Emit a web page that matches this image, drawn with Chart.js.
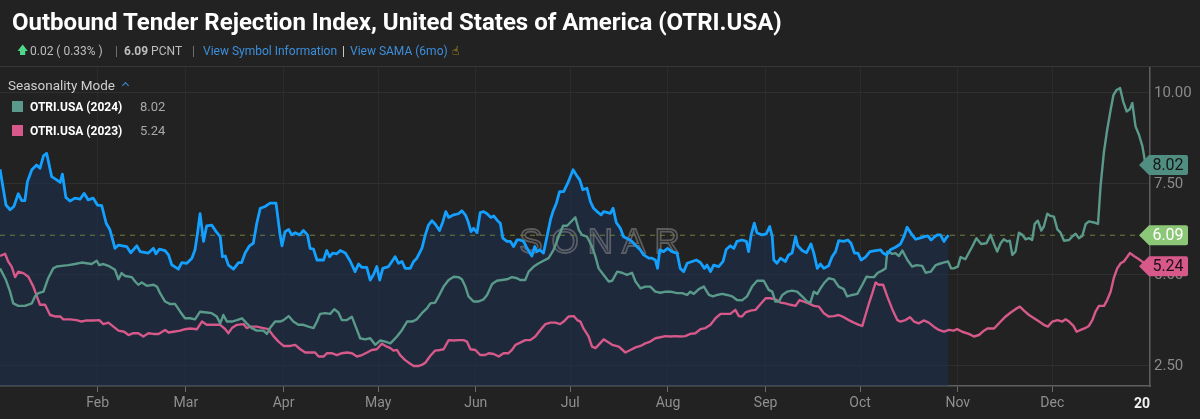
<!DOCTYPE html>
<html><head><meta charset="utf-8">
<script src="https://cdn.jsdelivr.net/npm/chart.js@4.4.1/dist/chart.umd.min.js"></script>
<style>
html,body{margin:0;padding:0;background:#222;width:1200px;height:419px;overflow:hidden;font-family:Roboto,"Noto Sans",sans-serif}
#wrap{position:relative;width:1200px;height:419px}
#c{position:absolute;left:0;top:0}
.t{position:absolute;white-space:nowrap}
#title{left:12px;top:8px;font:700 24px/28px Roboto;color:#fff}
.s{position:absolute;top:44px;font:12px/14px Roboto;color:#bdbdbd}
.lnk{color:#3d8fdc}
#hdrline{position:absolute;left:0;top:66px;width:1200px;height:1px;background:#363636}
.leg{position:absolute;font:12px/14px Roboto}
.sw{position:absolute;width:11px;height:11px}
</style></head><body>
<div id="wrap">
<canvas id="c" width="1200" height="419"></canvas>
<div id="hdrline"></div>
<div class="t" id="title">Outbound Tender Rejection Index, United States of America (OTRI.USA)</div>
<span class="s" style="left:17px;color:#4fd88a;font-size:11px">&#129093;</span>
<span class="s" style="left:30px">0.02 ( 0.33% )</span>
<span class="s" style="left:115px;color:#777">|</span>
<span class="s" style="left:124px"><b id="cur">6.09</b> PCNT</span>
<span class="s" style="left:192px;color:#777">|</span>
<span class="s lnk" style="left:203px">View Symbol Information</span>
<span class="s" style="left:342px;color:#ddd">|</span>
<span class="s lnk" style="left:350px">View SAMA (6mo)</span>
<span class="s" style="left:452px;color:#e8c21a;font-family:'DejaVu Sans'">&#9757;</span>
<div class="leg" style="left:8px;top:78px;font-size:13.5px;color:#cfcfcf">Seasonality Mode <span style="display:inline-block;width:4px;height:4px;border-left:1.5px solid #3d8fdc;border-top:1.5px solid #3d8fdc;transform:rotate(45deg);margin-left:5px;vertical-align:2px"></span></div>
<div class="sw" style="left:12px;top:101px;background:#5a9a8a"></div>
<div class="leg" style="left:30px;top:100px;color:#fff;font-weight:700">OTRI.USA (2024)</div>
<div class="leg" id="v24" style="left:140px;top:100px;color:#a8a8a8;font-size:13px"></div>
<div class="sw" style="left:12px;top:125px;background:#d6598a"></div>
<div class="leg" style="left:30px;top:124px;color:#fff;font-weight:700">OTRI.USA (2023)</div>
<div class="leg" id="v23" style="left:140px;top:124px;color:#a8a8a8;font-size:13px"></div>
</div>
<script>
// day of year -> value
const otri2025=[[0,7.90],[1.9,6.92],[3.2,6.79],[4.4,6.88],[5.8,7.23],[6.9,7.04],[7.9,7.04],[8.7,7.56],[10.1,7.89],[11.6,8.02],[12.7,7.93],[13.8,8.27],[14.8,8.34],[16.4,7.70],[18.0,7.61],[19.1,7.54],[19.8,7.77],[20.9,7.13],[22.2,7.03],[23.8,7.11],[25.4,7.08],[26.7,7.24],[28.0,7.06],[29.6,7.11],[30.9,6.92],[32.3,6.90],[33.7,6.42],[34.9,6.24],[36.5,5.73],[37.6,5.82],[40.2,5.78],[41.5,5.61],[43.4,5.80],[44.5,5.64],[47.1,5.60],[48.7,5.73],[49.5,5.58],[50.6,5.71],[52.4,5.67],[53.5,5.55],[54.5,5.28],[56.6,5.16],[57.7,5.34],[59.3,5.32],[60.9,5.46],[61.9,5.69],[62.7,6.15],[63.5,6.68],[64.6,5.92],[65.6,6.35],[67.2,6.37],[68.6,6.19],[69.9,6.05],[70.6,5.50],[71.5,5.52],[72.5,5.27],[74.1,5.16],[75.7,5.34],[76.7,5.34],[77.8,5.60],[79.2,5.80],[80.4,5.87],[81.5,6.42],[82.6,6.83],[84.2,6.88],[85.7,6.97],[87.6,6.97],[88.9,6.10],[89.5,5.80],[90.5,6.19],[91.6,6.25],[92.6,6.10],[93.7,6.16],[95.1,6.10],[96.3,6.22],[97.6,6.10],[98.4,5.73],[99.5,5.71],[100.6,5.41],[102.7,5.41],[103.7,5.67],[104.6,5.50],[105.6,5.60],[106.9,5.58],[108.0,5.67],[109.6,5.60],[111.1,5.39],[112.7,5.09],[113.8,5.30],[114.8,5.21],[116.4,5.21],[117.5,4.86],[118.5,5.00],[119.6,5.23],[120.5,4.86],[121.5,5.18],[123.3,5.23],[124.4,5.37],[125.4,5.50],[126.5,5.32],[127.6,5.37],[128.6,5.18],[130.2,5.18],[131.3,5.37],[132.3,5.46],[133.9,5.73],[135.0,6.10],[136.0,6.37],[137.1,6.49],[138.1,6.40],[139.5,6.22],[140.6,6.47],[141.5,6.74],[142.4,6.58],[144.0,6.65],[145.5,6.68],[146.6,6.76],[147.7,6.65],[148.4,6.51],[149.5,6.19],[150.3,6.28],[151.4,6.16],[152.4,6.71],[153.5,6.74],[154.6,6.68],[155.8,6.58],[156.7,6.62],[157.9,6.49],[158.8,6.42],[159.6,6.01],[160.9,5.92],[162.0,5.92],[163.0,5.78],[164.1,5.96],[165.1,5.96],[166.2,5.92],[167.3,5.73],[168.8,5.52],[169.7,5.78],[170.4,5.64],[171.3,5.69],[172.5,5.60],[173.6,6.05],[174.7,6.51],[175.5,6.74],[176.6,6.97],[177.6,7.29],[178.9,7.29],[180.2,7.52],[181.9,7.89],[183.1,7.72],[184.0,7.61],[185.0,7.34],[186.3,7.38],[187.4,7.01],[188.4,6.83],[189.5,6.74],[190.8,6.65],[191.6,6.74],[192.9,6.71],[193.7,6.69],[194.6,6.83],[195.6,6.44],[196.9,6.28],[197.9,6.05],[199.5,5.98],[200.6,5.92],[201.6,5.82],[203.2,5.69],[204.3,5.55],[205.9,5.46],[206.9,5.46],[208.0,5.41],[208.7,5.18],[209.4,5.69],[210.6,5.64],[211.9,5.73],[213.3,5.64],[214.9,5.60],[215.9,5.18],[217.0,5.09],[218.1,5.32],[219.7,5.37],[221.0,5.41],[222.3,5.34],[223.6,5.18],[224.4,5.27],[225.5,5.09],[226.5,5.27],[228.1,5.23],[229.5,5.37],[230.5,5.70],[231.8,5.80],[232.9,5.73],[233.9,5.92],[235.5,5.96],[236.9,5.92],[237.6,5.64],[238.4,6.10],[239.4,6.42],[240.3,6.15],[241.9,6.10],[243.2,6.13],[244.3,6.33],[245.1,6.05],[245.6,5.41],[246.6,5.32],[247.7,5.46],[249.3,5.37],[250.3,5.55],[251.4,5.60],[252.5,6.05],[253.2,5.80],[254.6,5.67],[256.0,5.61],[257.4,5.85],[258.3,5.60],[259.4,5.18],[260.4,5.30],[261.5,5.18],[263.0,5.25],[264.1,5.50],[265.2,5.64],[266.2,5.94],[267.8,5.92],[269.1,5.96],[270.1,5.87],[271.2,5.60],[272.3,5.60],[273.3,5.41],[274.7,5.49],[276.1,5.64],[277.9,5.67],[279.5,5.69],[280.3,5.60],[281.4,5.55],[282.6,5.69],[284.2,5.76],[285.8,5.85],[286.9,6.05],[287.9,6.31],[289.5,6.10],[290.6,5.98],[291.9,6.01],[293.4,6.05],[294.5,6.07],[295.5,5.96],[296.4,6.03],[297.5,6.10],[298.5,6.10],[299.6,5.92],[300.4,6.03],[301.1,6.09]];
const otri2024=[[0,5.18],[1.9,4.86],[3.2,4.54],[4.2,4.22],[5.8,4.15],[7.9,4.15],[10.1,4.22],[11.1,4.41],[12.2,4.50],[13.8,4.54],[15.3,4.91],[16.9,5.18],[18.0,5.23],[19.6,5.25],[21.7,5.27],[23.8,5.30],[25.9,5.34],[27.5,5.32],[29.1,5.30],[30.7,5.39],[31.5,5.27],[32.8,5.30],[34.4,5.25],[36.5,5.14],[37.6,4.88],[38.6,5.05],[39.7,4.97],[41.8,4.94],[42.9,4.82],[43.9,4.73],[45.0,4.79],[46.6,4.70],[48.7,4.73],[49.8,4.68],[50.8,4.50],[52.4,4.27],[54.0,4.20],[55.6,4.20],[57.2,3.99],[58.7,3.81],[60.3,3.81],[61.9,3.78],[63.5,3.99],[65.6,3.97],[67.2,3.95],[68.8,3.86],[69.9,3.67],[70.9,3.90],[72.0,3.72],[73.6,3.72],[75.2,3.76],[76.8,3.81],[78.3,3.67],[79.9,3.54],[81.5,3.47],[83.6,3.47],[84.7,3.38],[85.7,3.54],[87.3,3.72],[88.9,3.72],[90.0,3.76],[91.6,3.87],[93.1,3.72],[94.7,3.63],[96.3,3.63],[97.9,3.58],[99.5,3.54],[100.6,3.72],[101.6,3.93],[103.2,3.95],[104.8,3.93],[106.1,4.06],[107.4,3.97],[108.5,3.76],[110.1,3.76],[111.7,3.85],[113.3,3.49],[114.3,3.26],[115.9,3.23],[117.5,3.26],[119.1,3.08],[120.7,3.20],[122.3,3.17],[123.9,3.12],[124.9,3.21],[126.0,3.31],[127.6,3.49],[129.2,3.72],[130.8,3.72],[132.3,3.78],[133.9,3.95],[135.5,4.08],[136.6,4.22],[138.1,4.24],[139.2,4.41],[140.8,4.68],[142.4,4.86],[144.0,4.95],[145.5,4.94],[146.6,4.88],[147.7,4.68],[148.7,4.41],[150.3,4.27],[151.9,4.27],[153.5,4.33],[154.6,4.45],[156.2,4.75],[157.7,4.84],[159.3,4.86],[160.9,4.88],[162.5,4.94],[164.1,4.91],[165.1,4.86],[166.7,4.86],[167.8,5.09],[169.4,5.23],[171.0,5.32],[172.5,5.39],[174.1,5.46],[175.7,5.69],[177.3,6.05],[178.7,6.35],[180.0,6.35],[181.0,6.44],[182.6,6.58],[183.7,6.24],[184.7,6.10],[186.3,6.05],[187.9,5.78],[189.0,5.50],[190.0,5.18],[191.6,5.00],[193.2,4.82],[194.3,4.84],[195.9,5.09],[197.4,5.06],[199.0,5.00],[200.6,5.06],[201.7,4.82],[203.3,4.63],[204.8,4.68],[206.4,4.68],[208.0,4.54],[209.6,4.51],[211.2,4.54],[212.8,4.54],[214.9,4.50],[216.5,4.50],[218.1,4.45],[219.1,4.54],[220.2,4.48],[221.8,4.61],[223.4,4.68],[225.0,4.45],[226.3,4.41],[227.6,4.45],[229.2,4.48],[230.8,4.45],[232.4,4.41],[233.9,4.31],[235.5,4.30],[237.1,4.41],[238.7,4.68],[240.3,4.84],[242.4,4.84],[244.0,4.59],[245.1,4.54],[246.1,4.27],[247.2,4.27],[248.3,4.45],[249.8,4.54],[251.4,4.57],[253.0,4.54],[254.6,4.41],[256.2,4.27],[257.2,4.24],[258.3,4.54],[259.4,4.48],[260.4,4.63],[261.5,4.77],[263.0,4.91],[264.6,4.88],[266.2,4.68],[267.8,4.61],[268.9,4.41],[270.5,4.45],[272.1,4.48],[273.7,4.73],[275.0,4.95],[276.3,4.94],[277.4,4.94],[278.6,5.06],[280.0,5.12],[281.1,5.18],[281.6,5.64],[282.4,5.61],[283.2,5.58],[284.2,5.60],[285.3,5.52],[286.4,5.67],[288.0,5.41],[289.5,5.23],[290.9,5.27],[292.7,5.25],[293.8,5.06],[295.4,5.09],[297.0,5.27],[298.0,5.30],[299.4,5.34],[300.9,5.37],[301.9,5.18],[302.7,5.18],[304.0,5.23],[304.9,5.49],[306.4,5.43],[307.5,5.61],[308.6,5.78],[309.9,6.01],[311.4,5.85],[313.1,5.87],[314.4,6.10],[315.4,5.87],[316.5,5.64],[317.6,5.87],[318.6,5.98],[319.7,5.92],[320.5,5.94],[321.3,5.55],[322.3,5.64],[323.4,6.16],[324.5,6.10],[325.5,5.98],[326.6,6.01],[327.6,5.96],[328.4,6.40],[329.4,6.49],[330.5,6.22],[331.3,6.33],[332.4,6.68],[333.4,6.62],[334.5,6.60],[335.6,6.25],[336.6,6.16],[337.7,5.94],[339.3,5.96],[340.3,6.05],[341.4,6.13],[342.4,6.01],[343.5,6.07],[344.6,6.40],[345.6,6.47],[347.2,6.44],[348.5,6.40],[349.3,7.43],[350.4,8.39],[351.4,8.98],[352.5,9.53],[353.4,9.94],[354.4,10.08],[355.5,10.13],[356.5,9.76],[357.6,9.49],[358.6,9.55],[359.4,9.72],[360.4,9.08],[361.5,8.85],[362.6,8.53],[363.6,8.02]];
const otri2023=[[0,5.52],[1.6,5.58],[2.6,5.37],[3.7,5.23],[4.8,4.94],[5.8,5.09],[7.4,5.05],[9.0,4.95],[10.6,4.68],[11.7,4.41],[12.7,4.18],[14.3,4.18],[15.9,3.90],[17.5,3.86],[19.1,3.86],[20.1,3.78],[22.2,3.78],[24.3,3.76],[25.9,3.72],[27.5,3.75],[29.6,3.75],[31.5,3.76],[32.8,3.65],[34.4,3.69],[36.0,3.58],[37.6,3.47],[39.4,3.44],[40.8,3.35],[42.3,3.40],[43.9,3.40],[45.5,3.31],[47.1,3.40],[48.7,3.38],[50.3,3.38],[52.4,3.49],[53.5,3.42],[55.0,3.44],[57.2,3.47],[58.7,3.51],[60.3,3.53],[62.5,3.51],[64.1,3.72],[65.6,3.63],[67.7,3.63],[69.9,3.63],[71.5,3.51],[72.5,3.40],[73.6,3.54],[75.2,3.63],[77.3,3.65],[78.3,3.54],[79.4,3.58],[81.5,3.58],[83.6,3.54],[85.2,3.51],[86.8,3.32],[88.4,3.17],[90.0,3.05],[92.1,3.05],[93.7,3.08],[95.3,2.96],[96.9,2.87],[100.0,2.87],[101.1,2.76],[102.7,2.76],[103.8,2.85],[105.3,2.85],[106.9,2.80],[108.5,2.85],[110.1,2.87],[111.7,2.85],[113.3,2.76],[114.9,2.80],[116.5,2.87],[118.0,2.94],[119.6,2.96],[121.2,3.11],[122.8,3.03],[123.9,2.99],[124.9,2.92],[126.0,2.94],[127.0,2.80],[128.6,2.66],[130.2,2.56],[131.3,2.50],[132.9,2.50],[133.9,2.53],[135.0,2.59],[136.6,2.78],[138.1,2.92],[139.7,2.94],[140.8,2.96],[142.4,3.21],[144.0,3.20],[145.5,3.21],[147.1,3.21],[148.2,3.17],[149.3,2.96],[150.9,2.94],[152.4,2.80],[154.0,2.80],[155.1,2.85],[156.7,2.83],[158.3,2.76],[159.8,2.85],[161.4,2.85],[162.5,2.94],[163.6,3.08],[165.1,3.14],[166.7,3.21],[168.3,3.21],[169.9,3.31],[171.5,3.49],[173.1,3.65],[174.7,3.69],[176.3,3.69],[177.8,3.65],[178.9,3.72],[180.5,3.86],[182.1,3.87],[183.2,3.76],[184.2,3.72],[185.2,3.53],[186.8,3.31],[187.9,3.03],[189.0,2.99],[190.0,3.08],[191.6,3.23],[192.7,3.17],[194.3,3.08],[196.4,3.03],[198.5,2.87],[200.1,2.94],[201.7,3.01],[203.3,3.05],[204.8,3.12],[206.4,3.17],[208.0,3.26],[209.6,3.29],[211.2,3.32],[212.8,3.31],[214.4,3.32],[216.0,3.31],[217.5,3.32],[219.1,3.38],[220.7,3.40],[222.3,3.51],[223.9,3.54],[225.5,3.63],[227.1,3.81],[228.7,3.93],[230.3,3.93],[231.8,3.93],[233.4,4.04],[234.5,3.87],[235.5,3.86],[236.6,3.97],[238.2,4.02],[239.8,4.04],[241.4,4.20],[243.0,4.36],[244.5,4.36],[246.1,4.33],[247.7,4.24],[249.3,4.22],[250.9,4.18],[252.5,4.15],[253.8,4.31],[255.1,4.27],[256.7,4.22],[258.3,4.15],[259.9,4.13],[261.5,3.95],[263.0,3.86],[264.6,3.87],[266.2,3.90],[267.8,3.84],[269.4,3.76],[271.0,3.69],[272.6,3.63],[273.7,3.60],[274.7,3.90],[275.8,4.22],[276.8,4.48],[277.9,4.79],[278.9,4.73],[280.3,4.73],[281.6,4.41],[283.2,4.06],[284.8,3.76],[285.8,3.72],[287.4,3.76],[288.8,3.84],[290.1,3.72],[291.6,3.67],[293.2,3.75],[294.8,3.69],[296.4,3.58],[298.0,3.49],[299.6,3.44],[301.2,3.49],[302.7,3.47],[303.8,3.51],[305.4,3.44],[307.5,3.38],[309.1,3.31],[310.7,3.35],[312.3,3.47],[313.4,3.53],[315.5,3.53],[317.6,3.72],[319.2,3.86],[320.8,3.97],[322.3,4.06],[323.7,4.13],[325.0,4.02],[326.6,3.90],[328.2,3.81],[329.8,3.72],[331.3,3.63],[332.6,3.58],[334.0,3.72],[335.6,3.76],[337.2,3.72],[338.2,3.78],[339.3,3.72],[340.7,3.60],[341.7,3.44],[343.0,3.49],[344.2,3.53],[345.6,3.60],[346.7,3.76],[347.7,3.99],[348.8,4.15],[350.4,4.15],[351.4,4.31],[352.5,4.54],[353.5,4.91],[354.6,5.18],[355.7,5.32],[356.7,5.37],[357.8,5.50],[358.6,5.60],[359.9,5.52],[361.5,5.43],[362.9,5.34],[364.1,5.24]];
const monthDays=[31,59,90,120,151,181,212,243,273,304,334];
const monthNames=['Feb','Mar','Apr','May','Jun','Jul','Aug','Sep','Oct','Nov','Dec'];
const yTicks=[2.5,5,7.5,10];

const last=a=>a[a.length-1][1];
const pts=a=>a.map(p=>({x:p[0],y:p[1]}));
document.getElementById('cur').innerText=last(otri2025).toFixed(2);
document.getElementById('v24').innerText=last(otri2024).toFixed(2);
document.getElementById('v23').innerText=last(otri2023).toFixed(2);

function tag(ctx,y,txt,bg,fg){
 ctx.save();
 ctx.beginPath();
 ctx.moveTo(1139,y);ctx.lineTo(1149,y-10);ctx.lineTo(1186,y-10);ctx.quadraticCurveTo(1188,y-10,1188,y-8);
 ctx.lineTo(1188,y+8);ctx.quadraticCurveTo(1188,y+10,1186,y+10);ctx.lineTo(1149,y+10);ctx.closePath();
 ctx.fillStyle=bg;ctx.fill();
 ctx.fillStyle=fg;ctx.font='16px Roboto';ctx.textAlign='center';ctx.textBaseline='middle';
 ctx.fillText(txt,1168,y+1);
 ctx.restore();
}

const extras={
 id:'extras',
 beforeDatasetsDraw(c){
  const ctx=c.ctx,a=c.chartArea,ys=c.scales.y;
  ctx.save();
  ctx.font='400 35px "Liberation Sans"';ctx.letterSpacing='9px';
  ctx.textAlign='center';ctx.textBaseline='middle';
  ctx.strokeStyle='rgba(150,150,150,0.5)';ctx.lineWidth=1.8;
  ctx.strokeText('SONAR',604,243);
  ctx.restore();
  const y=ys.getPixelForValue(last(otri2025));
  ctx.save();ctx.strokeStyle='#6f7f3c';ctx.lineWidth=1;ctx.setLineDash([5,5]);
  ctx.beginPath();ctx.moveTo(a.left,y);ctx.lineTo(a.right,y);ctx.stroke();ctx.restore();
 },
 afterDraw(c){
  const ctx=c.ctx,ys=c.scales.y,xs=c.scales.x,a=c.chartArea;
  ctx.save();
  ctx.beginPath();ctx.rect(0,a.bottom+1,a.right,40);ctx.clip();
  ctx.font='700 14px Roboto';ctx.fillStyle='#f2f2f2';ctx.textAlign='center';ctx.textBaseline='middle';
  ctx.fillText('2025',xs.getPixelForValue(365),404);
  ctx.restore();
  tag(ctx,ys.getPixelForValue(last(otri2024)),last(otri2024).toFixed(2),'#4f8e80','#161616');
  tag(ctx,ys.getPixelForValue(last(otri2025)),last(otri2025).toFixed(2),'#8cc777','#ffffff');
  tag(ctx,ys.getPixelForValue(last(otri2023)),last(otri2023).toFixed(2),'#d6598a','#1e1014');
 }
};

new Chart(document.getElementById('c'),{
 type:'line',
 data:{datasets:[
  {label:'OTRI.USA',data:pts(otri2025),borderColor:'#14a0ff',borderWidth:2.8,fill:'start',backgroundColor:'rgba(26,48,84,0.5)'},
  {label:'OTRI.USA (2024)',data:pts(otri2024),borderColor:'#5a9a8a',borderWidth:2.4,fill:false},
  {label:'OTRI.USA (2023)',data:pts(otri2023),borderColor:'#d6598a',borderWidth:2.4,fill:false}
 ]},
 options:{
  responsive:false,animation:false,devicePixelRatio:1,
  layout:{padding:{top:67,left:0,right:0,bottom:0}},
  elements:{point:{radius:0},line:{tension:0,borderJoinStyle:'round'}},
  plugins:{legend:{display:false},tooltip:{enabled:false},filler:{drawTime:'beforeDatasetsDraw'}},
  scales:{
   x:{type:'linear',min:0,max:365,
    afterBuildTicks:s=>{s.ticks=monthDays.map(v=>({value:v}));},
    afterFit:s=>{s.height=33;},
    ticks:{callback:v=>monthNames[monthDays.indexOf(v)],color:'#8f8f8f',font:{size:14,family:'Roboto'},padding:3,maxRotation:0,autoSkip:false},
    grid:{color:'#2b2b2b',tickColor:'#6a6a6a',tickLength:6},
    border:{color:'#5e5e5e',width:1.5}},
   y:{position:'right',min:1.95,max:10.71,
    afterBuildTicks:s=>{s.ticks=yTicks.map(v=>({value:v}));},
    afterFit:s=>{s.width=50;},
    ticks:{callback:v=>v.toFixed(2),color:'#8a8a8a',font:{size:15,family:'Roboto'},padding:4},
    grid:{color:'#2f2f2f',drawTicks:false},
    border:{color:'#5e5e5e',width:1.5}}
  }
 },
 plugins:[extras]
});
</script>
</body></html>
